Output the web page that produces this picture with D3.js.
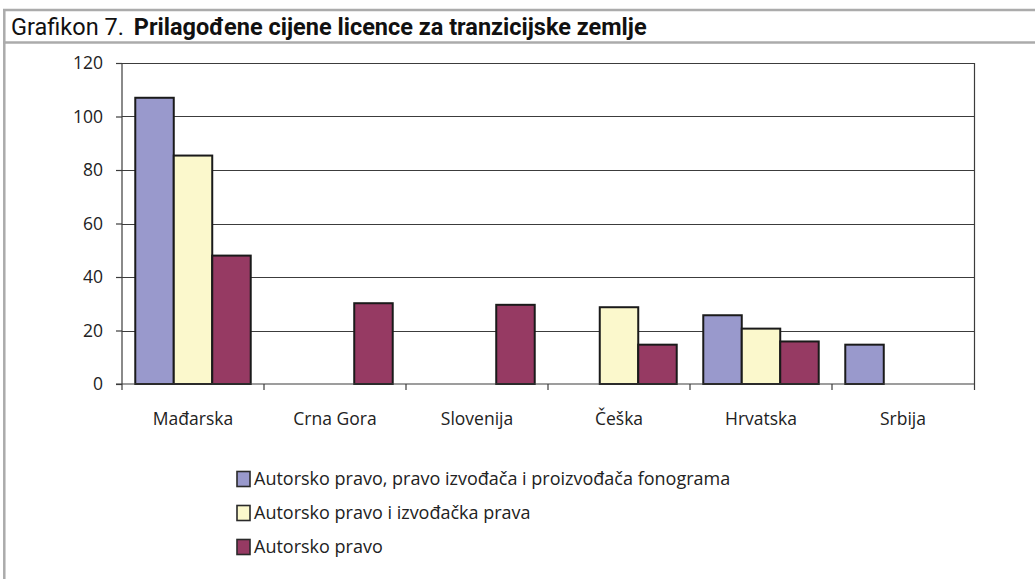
<!DOCTYPE html>
<html>
<head>
<meta charset="utf-8">
<script src="https://cdn.jsdelivr.net/npm/d3@7"></script>
<style>
  html, body { margin: 0; padding: 0; background: #fff; }
  svg { display: block; }
</style>
</head>
<body>
<svg id="chart" width="1035" height="579"></svg>
<script>
const categories = ['Mađarska', 'Crna Gora', 'Slovenija', 'Češka', 'Hrvatska', 'Srbija'];
const seriesNames = [
  'Autorsko pravo, pravo izvođača i proizvođača fonograma',
  'Autorsko pravo i izvođačka prava',
  'Autorsko pravo',
];
const fullRights = [107, null, null, null, 25.7, 14.7];
const performerRights = [85.4, null, null, 28.7, 20.7, null];
const authorRights = [48, 30.2, 29.6, 14.7, 15.9, null];
const yTicks = [0, 20, 40, 60, 80, 100, 120];
const colors = ['#9999cc', '#fbf8cc', '#963a63'];

const series = [fullRights, performerRights, authorRights];

const width = 1035;
const height = 579;
const margin = { left: 122, right: 61, top: 63, bottom: 195 };
const font = '"Open Sans", "Noto Sans", sans-serif';

const svg = d3.select('#chart');

// frame of the figure
svg.append('line').attr('x1', 3).attr('x2', width).attr('y1', 10).attr('y2', 10)
  .attr('stroke', '#ababab').attr('stroke-width', 2.5);
svg.append('line').attr('x1', 3).attr('x2', width).attr('y1', 42.5).attr('y2', 42.5)
  .attr('stroke', '#ababab').attr('stroke-width', 2.5);
svg.append('line').attr('x1', 4.3).attr('x2', 4.3).attr('y1', 9).attr('y2', height)
  .attr('stroke', '#ababab').attr('stroke-width', 2.5);

const title = svg.append('text')
  .attr('x', 11).attr('y', 35)
  .attr('font-family', '"Liberation Sans Narrow", "Roboto", "Liberation Sans", sans-serif')
  .attr('font-size', 23.5).attr('fill', '#111');
title.append('tspan').text('Grafikon 7.');
title.append('tspan').attr('dx', 10).attr('font-weight', 'bold')
  .text('Prilagođene cijene licence za tranzicijske zemlje');

const x = d3.scaleBand()
  .domain(categories)
  .range([margin.left, width - margin.right]);

const xInner = d3.scaleBand()
  .domain(d3.range(series.length))
  .range([0, x.bandwidth()])
  .paddingOuter(0.345)
  .paddingInner(0);

const y = d3.scaleLinear()
  .domain([0, 120])
  .range([height - margin.bottom, margin.top]);

// gridlines
svg.append('g')
  .selectAll('line')
  .data(yTicks.filter((d) => d > 0))
  .join('line')
  .attr('x1', margin.left).attr('x2', width - margin.right)
  .attr('y1', (d) => Math.round(y(d)) + 0.5).attr('y2', (d) => Math.round(y(d)) + 0.5)
  .attr('stroke', '#3c3c3c').attr('stroke-width', 1.2);

// right border of plot
svg.append('line')
  .attr('x1', width - margin.right + 0.5).attr('x2', width - margin.right + 0.5)
  .attr('y1', y(120)).attr('y2', y(0) + 6)
  .attr('stroke', '#3c3c3c').attr('stroke-width', 1.2);

// bars
const groups = svg.append('g')
  .selectAll('g')
  .data(series)
  .join('g')
  .attr('fill', (_d, i) => colors[i]);

groups.each(function (vals, si) {
  d3.select(this)
    .selectAll('rect')
    .data(vals.map((v, ci) => ({ v, c: categories[ci] })).filter((d) => d.v != null))
    .join('rect')
    .attr('x', (d) => x(d.c) + xInner(si))
    .attr('y', (d) => y(d.v))
    .attr('width', xInner.bandwidth())
    .attr('height', (d) => y(0) - y(d.v))
    .attr('stroke', '#1a1a1a')
    .attr('stroke-width', 2);
});

// y axis
const yAxis = svg.append('g')
  .attr('transform', `translate(${margin.left},0)`)
  .call(d3.axisLeft(y).tickValues(yTicks).tickSize(6).tickPadding(13));
yAxis.select('.domain').attr('stroke', '#3c3c3c').attr('stroke-width', 1.2)
  .attr('d', `M0,${y(120)}V${y(0) + 6}`);
yAxis.selectAll('.tick line').attr('stroke', '#3c3c3c').attr('stroke-width', 1.2);
yAxis.selectAll('.tick text').attr('font-family', font).attr('font-size', 17.5).attr('fill', '#222');

// x axis
const xAxis = svg.append('g')
  .attr('transform', `translate(0,${y(0)})`)
  .call(d3.axisBottom(x).tickSize(0).tickPadding(28.5));
xAxis.select('.domain').attr('stroke', '#3c3c3c').attr('stroke-width', 1.2)
  .attr('d', `M${margin.left - 6},0H${width - margin.right}`);
xAxis.selectAll('.tick text').attr('font-family', font).attr('font-size', 17.5).attr('fill', '#222');
xAxis.selectAll('.sep')
  .data(categories.slice(1))
  .join('line')
  .attr('class', 'sep')
  .attr('x1', (d) => x(d)).attr('x2', (d) => x(d))
  .attr('y1', 0).attr('y2', 6)
  .attr('stroke', '#3c3c3c').attr('stroke-width', 1.2);

// legend
const legend = svg.append('g')
  .attr('transform', 'translate(237,479)')
  .selectAll('g')
  .data(seriesNames)
  .join('g')
  .attr('transform', (_d, i) => `translate(0,${i * 34})`);
legend.append('rect')
  .attr('x', 0).attr('y', -7.5).attr('width', 13).attr('height', 15)
  .attr('fill', (_d, i) => colors[i])
  .attr('stroke', '#2a2a2a').attr('stroke-width', 1.6);
legend.append('text')
  .attr('x', 17).attr('y', 0).attr('dy', '0.35em')
  .attr('font-family', font).attr('font-size', 18).attr('fill', '#222')
  .text((d) => d);
</script>
</body>
</html>
